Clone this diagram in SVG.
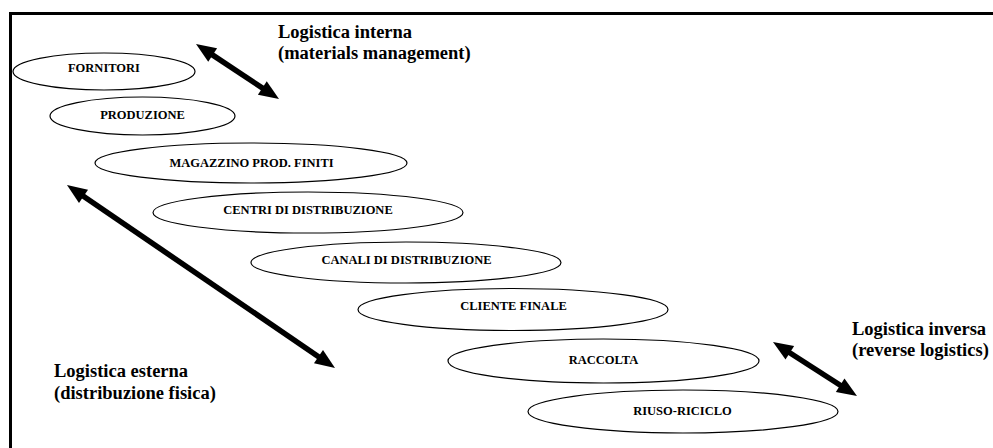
<svg xmlns="http://www.w3.org/2000/svg" width="993" height="448" viewBox="0 0 993 448">
  <style>
    .node ellipse { fill: #ffffff; stroke: #000000; stroke-width: 1.2; }
    .node text { font-family: "Liberation Serif", "Times New Roman", serif; font-weight: bold; font-size: 12.5px; text-anchor: middle; fill: #000000; }
    .label { font-family: "Liberation Serif", "Times New Roman", serif; font-weight: bold; font-size: 18.5px; fill: #000000; }
    .frame { stroke: #000000; stroke-width: 3; fill: none; }
    .flow { stroke: #000000; stroke-width: 5.5; fill: none; marker-start: url(#head); marker-end: url(#head); }
  </style>
  <defs>
    <marker id="head" markerUnits="userSpaceOnUse" markerWidth="20" markerHeight="16" refX="8" refY="8" orient="auto-start-reverse" overflow="visible">
      <path d="M0,0 L20,8 L0,16 Z" fill="#000000"/>
    </marker>
  </defs>

  <rect width="993" height="448" fill="#ffffff"/>

  <!-- open frame: top and left edges -->
  <path class="frame" d="M10.5,448 L10.5,13.5 L993,13.5"/>

  <g id="fornitori" class="node">
    <ellipse cx="104" cy="71.5" rx="91" ry="18.5"/>
    <text x="104" y="72">FORNITORI</text>
  </g>
  <g id="produzione" class="node">
    <ellipse cx="142.5" cy="116" rx="92.5" ry="19"/>
    <text x="142.5" y="119">PRODUZIONE</text>
  </g>
  <g id="magazzino" class="node">
    <ellipse cx="251" cy="163" rx="156" ry="20"/>
    <text x="251.5" y="167">MAGAZZINO PROD. FINITI</text>
  </g>
  <g id="centri" class="node">
    <ellipse cx="308" cy="212.5" rx="155" ry="20.5"/>
    <text x="308" y="214">CENTRI DI DISTRIBUZIONE</text>
  </g>
  <g id="canali" class="node">
    <ellipse cx="406" cy="262.5" rx="155" ry="20.5"/>
    <text x="406.5" y="264">CANALI DI DISTRIBUZIONE</text>
  </g>
  <g id="cliente" class="node">
    <ellipse cx="513" cy="309.5" rx="155" ry="21"/>
    <text x="513.5" y="310">CLIENTE FINALE</text>
  </g>
  <g id="raccolta" class="node">
    <ellipse cx="603.5" cy="361" rx="155.5" ry="22"/>
    <text x="603.5" y="364">RACCOLTA</text>
  </g>
  <g id="riuso" class="node">
    <ellipse cx="683" cy="411.5" rx="155" ry="21.5"/>
    <text x="682.5" y="415">RIUSO-RICICLO</text>
  </g>

  <g id="connectors">
    <line class="flow" x1="206" y1="50.6" x2="269" y2="92.4"/>
    <line class="flow" x1="76.9" y1="191.8" x2="325.1" y2="361.2"/>
    <line class="flow" x1="783.1" y1="348.5" x2="846.9" y2="389.5"/>
  </g>

  <g id="labels">
    <text class="label" x="278" y="38">Logistica interna</text>
    <text class="label" x="278" y="59">(materials management)</text>
    <text class="label" x="54" y="377">Logistica esterna</text>
    <text class="label" x="54" y="399">(distribuzione fisica)</text>
    <text class="label" x="852" y="335">Logistica inversa</text>
    <text class="label" x="852" y="356">(reverse logistics)</text>
  </g>
</svg>
